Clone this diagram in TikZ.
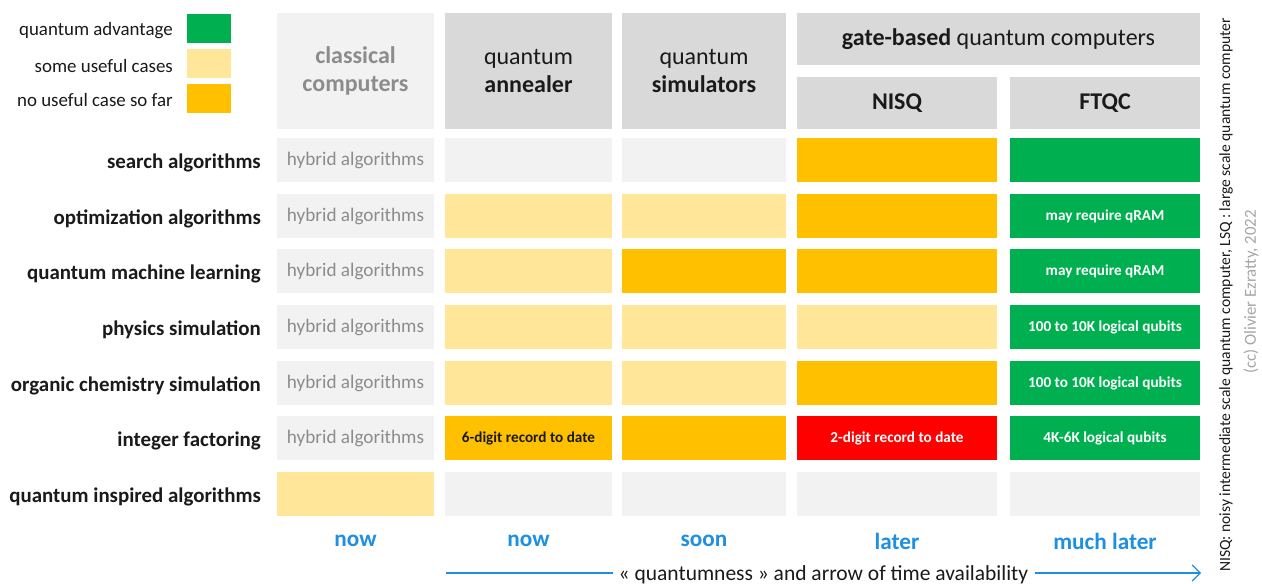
\documentclass[tikz,border=0pt]{standalone}
\usepackage{fontspec}
\setmainfont{Carlito}
\usetikzlibrary{arrows.meta}
\definecolor{hdr}{HTML}{D9D9D9}
\definecolor{pale}{HTML}{F2F2F2}
\definecolor{qgreen}{HTML}{00B050}
\definecolor{qlight}{HTML}{FFE699}
\definecolor{qorange}{HTML}{FFC000}
\definecolor{qred}{HTML}{FF0000}
\definecolor{qblue}{HTML}{1E8FE1}
\definecolor{qgrey}{HTML}{8C8C8C}
\definecolor{qsoft}{HTML}{A6A6A6}
\definecolor{qtext}{HTML}{1A1A1A}
\tikzset{
  base/.style={inner sep=0pt, outer sep=0pt, minimum height=44, align=center},
  c0/.style={base, minimum width=157},
  c1/.style={base, minimum width=167},
  c2/.style={base, minimum width=164},
  c3/.style={base, minimum width=200},
  c4/.style={base, minimum width=190},
  hyb/.style={fill=pale, text=qgrey, font=\fontsize{19.2}{22}\selectfont},
  cellnote/.style={font=\bfseries\fontsize{15.2}{18}\selectfont},
  rowlabel/.style={anchor=east, inner sep=0pt, text=qtext, font=\bfseries\fontsize{20.9}{24}\selectfont},
  legtext/.style={anchor=east, inner sep=0pt, text=qtext, font=\fontsize{18.9}{22}\selectfont},
  legbox/.style={inner sep=0pt, minimum width=44, minimum height=29},
  head/.style={fill=hdr, text=qtext, font=\fontsize{24}{28}\selectfont},
  when/.style={text=qblue, font=\bfseries\fontsize{23.2}{27}\selectfont},
}
\begin{document}
\begin{tikzpicture}[x=1pt,y=-1pt]
\useasboundingbox[fill=white] (0,0) rectangle (1262,584);

% legend
\node[legbox, fill=qgreen]  (k1) at (209,28.5) {};
\node[legbox, fill=qlight]  (k2) at (209,63.5) {};
\node[legbox, fill=qorange] (k3) at (209,98.5) {};
\node[legtext] (kt1) at (173,31) {quantum advantage};
\node[legtext] (kt2) at (173,66) {some useful cases};
\node[legtext] (kt3) at (173,100) {no useful case so far};

% column headers
\node[c0, minimum height=116, fill=pale, text=qgrey, font=\bfseries\fontsize{24}{28}\selectfont] (h0) at (355.5,71) {classical\\computers};
\node[c1, minimum height=116, head] (h1) at (528.5,71) {quantum\\\textbf{annealer}};
\node[c2, minimum height=116, head] (h2) at (704,71) {quantum\\\textbf{simulators}};
\node[base, minimum width=403, minimum height=52, head] (hg) at (998.5,39) {\textbf{gate-based} quantum computers};
\node[c3, minimum height=52, head, font=\bfseries\fontsize{24}{28}\selectfont] (h3) at (897,103) {NISQ};
\node[c4, minimum height=52, head, font=\bfseries\fontsize{24}{28}\selectfont] (h4) at (1105,103) {FTQC};

% row labels
\node[rowlabel] (r1) at (261,163) {search algorithms};
\node[rowlabel] (r2) at (261,219) {optimization algorithms};
\node[rowlabel] (r3) at (261,274) {quantum machine learning};
\node[rowlabel] (r4) at (261,330) {physics simulation};
\node[rowlabel] (r5) at (261,386) {organic chemistry simulation};
\node[rowlabel] (r6) at (261,441) {integer factoring};
\node[rowlabel] (r7) at (261,497) {quantum inspired algorithms};

% search algorithms
\node[c0, hyb]            (a0) at (355.5,160) {hybrid algorithms};
\node[c1, fill=pale]      (a1) at (528.5,160) {};
\node[c2, fill=pale]      (a2) at (704,160) {};
\node[c3, fill=qorange]   (a3) at (897,160) {};
\node[c4, fill=qgreen]    (a4) at (1105,160) {};

% optimization algorithms
\node[c0, hyb]            (b0) at (355.5,216) {hybrid algorithms};
\node[c1, fill=qlight]    (b1) at (528.5,216) {};
\node[c2, fill=qlight]    (b2) at (704,216) {};
\node[c3, fill=qorange]   (b3) at (897,216) {};
\node[c4, fill=qgreen, cellnote, text=white] (b4) at (1105,216) {may require qRAM};

% quantum machine learning
\node[c0, hyb]            (q0) at (355.5,271) {hybrid algorithms};
\node[c1, fill=qlight]    (q1) at (528.5,271) {};
\node[c2, fill=qorange]   (q2) at (704,271) {};
\node[c3, fill=qorange]   (q3) at (897,271) {};
\node[c4, fill=qgreen, cellnote, text=white] (q4) at (1105,271) {may require qRAM};

% physics simulation
\node[c0, hyb]            (p0) at (355.5,327) {hybrid algorithms};
\node[c1, fill=qlight]    (p1) at (528.5,327) {};
\node[c2, fill=qlight]    (p2) at (704,327) {};
\node[c3, fill=qlight]    (p3) at (897,327) {};
\node[c4, fill=qgreen, cellnote, text=white] (p4) at (1105,327) {100 to 10K logical qubits};

% organic chemistry simulation
\node[c0, hyb]            (o0) at (355.5,383) {hybrid algorithms};
\node[c1, fill=qlight]    (o1) at (528.5,383) {};
\node[c2, fill=qlight]    (o2) at (704,383) {};
\node[c3, fill=qorange]   (o3) at (897,383) {};
\node[c4, fill=qgreen, cellnote, text=white] (o4) at (1105,383) {100 to 10K logical qubits};

% integer factoring
\node[c0, hyb]            (f0) at (355.5,438) {hybrid algorithms};
\node[c1, fill=qorange, cellnote, text=qtext] (f1) at (528.5,438) {6-digit record to date};
\node[c2, fill=qorange]   (f2) at (704,438) {};
\node[c3, fill=qred, cellnote, text=white] (f3) at (897,438) {2-digit record to date};
\node[c4, fill=qgreen, cellnote, text=white] (f4) at (1105,438) {4K-6K logical qubits};

% quantum inspired algorithms
\node[c0, fill=qlight]    (i0) at (355.5,494) {};
\node[c1, fill=pale]      (i1) at (528.5,494) {};
\node[c2, fill=pale]      (i2) at (704,494) {};
\node[c3, fill=pale]      (i3) at (897,494) {};
\node[c4, fill=pale]      (i4) at (1105,494) {};

% availability
\node[when] (t0) at (355.5,541) {now};
\node[when] (t1) at (528.5,541) {now};
\node[when] (t2) at (704,541) {soon};
\node[when] (t3) at (897,541) {later};
\node[when] (t4) at (1105,541) {much later};

% time arrow
\node[inner sep=0pt, text=qtext, font=\fontsize{21.5}{25}\selectfont] (qt) at (823.5,575) {« quantumness » and arrow of time availability};
\coordinate (ar0) at (446,573);
\coordinate (ar1) at (1201,573);
\draw[qblue, line width=1.2pt] (ar0) -- ([xshift=-6pt]qt.west |- ar0);
\draw[qblue, line width=1.2pt, -{Straight Barb[length=8pt, width=16pt, line width=1.2pt]}] ([xshift=7pt]qt.east |- ar1) -- (ar1);

% side notes
\node[rotate=90, inner sep=0pt, text=qtext, font=\fontsize{15.6}{18}\selectfont] (n1) at (1226,295) {NISQ: noisy intermediate scale quantum computer, LSQ : large scale quantum computer};
\node[rotate=90, inner sep=0pt, text=qsoft, font=\fontsize{16.8}{20}\selectfont] (n2) at (1251,292) {(cc) Olivier Ezratty, 2022};
\end{tikzpicture}
\end{document}
